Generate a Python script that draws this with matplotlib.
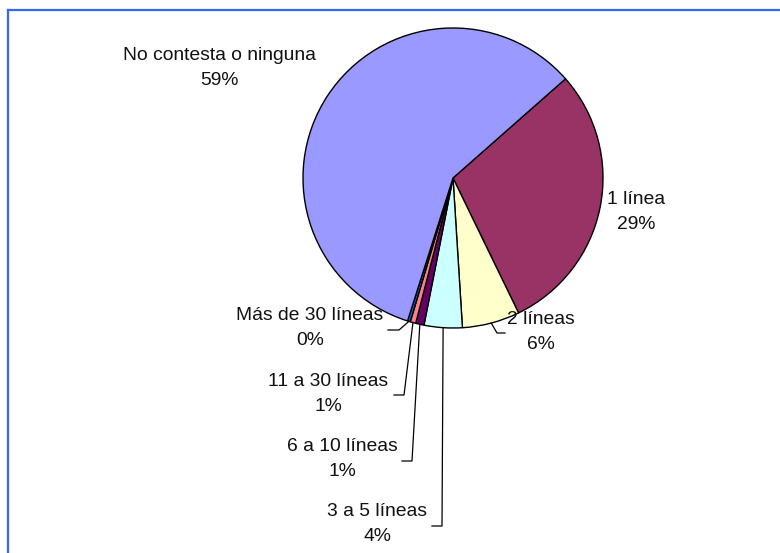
import numpy as np
import matplotlib.pyplot as plt
from matplotlib.lines import Line2D

plt.rcParams['font.family'] = ['Liberation Sans', 'DejaVu Sans']

# datos (porcentajes)
categorias = ['1 línea', '2 líneas', '3 a 5 líneas', '6 a 10 líneas',
              '11 a 30 líneas', 'Más de 30 líneas', 'No contesta o ninguna']
valores = [29.3, 6.2, 4.1, 0.9, 0.6, 0.3, 58.6]
colores = ['#993366', '#FFFFCC', '#CCFFFF', '#660066',
           '#FF8080', '#0066CC', '#9999FF']

W, H = 780, 553
fig = plt.figure(figsize=(W / 100, H / 100), dpi=100)
ax = fig.add_axes([0, 0, 1, 1])


def py(y):
    # pixel y (desde arriba) -> coordenada de datos
    return H - y


cx, cy, r = 453, py(178), 150
wedges, _ = ax.pie(valores, colors=colores, startangle=41.4, counterclock=False,
                   center=(cx, cy), radius=r, frame=True,
                   wedgeprops=dict(edgecolor='black', linewidth=1.0))

# posiciones de etiquetas (centro) y esquina de la linea guia
pos_etiqueta = {
    '1 línea': (636, 212),
    '2 líneas': (541, 332),
    '3 a 5 líneas': (377, 524),
    '6 a 10 líneas': (342, 459),
    '11 a 30 líneas': (328, 394),
    'Más de 30 líneas': (310, 328),
    'No contesta o ninguna': (219, 68),
}
guia = {
    '2 líneas': ((497, 333), 505),
    '3 a 5 líneas': ((442, 526), 432),
    '6 a 10 líneas': ((412, 461), 402),
    '11 a 30 líneas': ((404, 395), 394),
    'Más de 30 líneas': ((399, 330), 388),
}

for w, cat, v in zip(wedges, categorias, valores):
    x, y = pos_etiqueta[cat]
    ax.text(x, py(y), f'{cat}\n{v:.0f}%', ha='center', va='center',
            fontsize=13.9, color='#111111', linespacing=1.55)
    if cat in guia:
        ang = np.deg2rad((w.theta1 + w.theta2) / 2)
        x0, y0 = cx + r * np.cos(ang), cy + r * np.sin(ang)
        (xc, yc), xe = guia[cat]
        ax.plot([x0, xc, xe], [y0, py(yc), py(yc)], color='black', lw=0.9)

ax.set_xlim(0, W)
ax.set_ylim(0, H)
ax.set_aspect('auto')
ax.axis('off')

# borde azul (solo arriba e izquierda visibles)
fig.add_artist(Line2D([8 / W, 1], [1 - 10 / H, 1 - 10 / H], color='#3366FF', lw=1.6))
fig.add_artist(Line2D([8 / W, 8 / W], [0, 1 - 10 / H], color='#3366FF', lw=1.6))

fig.savefig('out.png', dpi=100)
